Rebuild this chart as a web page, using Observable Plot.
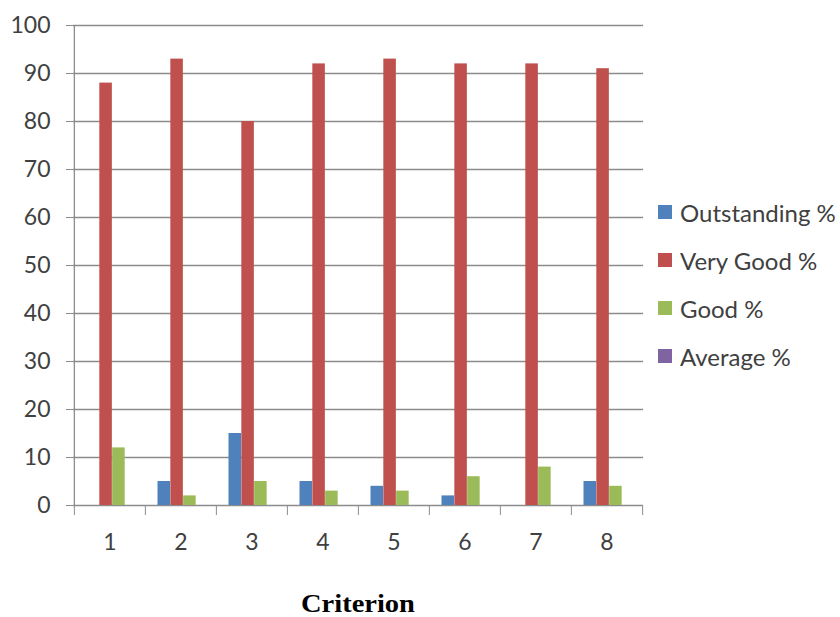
<!DOCTYPE html>
<html>
<head>
<meta charset="utf-8">
<script src="https://cdn.jsdelivr.net/npm/d3@7"></script>
<script src="https://cdn.jsdelivr.net/npm/@observablehq/plot@0.6"></script>
<style>
  body { margin: 0; background: #fff; }
  #wrap { position: relative; width: 840px; height: 617px; }
  #legend { position: absolute; left: 658px; top: 188px; font-family: Lato, "Open Sans", sans-serif; font-size: 24px; color: #404040; white-space: nowrap; }
  #legend .item { display: flex; align-items: center; height: 48px; }
  #legend .sw { width: 14px; height: 14px; margin-right: 8px; }
  #title { position: absolute; left: 0; width: 716px; top: 594px; line-height: 20px; text-align: center; font-family: "Liberation Serif", "Times New Roman", serif; font-weight: bold; font-size: 25px; color: #000; }
  #title span { display: inline-block; transform: scaleX(1.14); }
</style>
</head>
<body>
<div id="wrap">
  <div id="chart"></div>
  <div id="legend"></div>
  <div id="title"><span>Criterion</span></div>
</div>
<script>
const categories = ["1", "2", "3", "4", "5", "6", "7", "8"];
const outstanding = [0, 5, 15, 5, 4, 2, 0, 5];
const veryGood = [88, 93, 80, 92, 93, 92, 92, 91];
const good = [12, 2, 5, 3, 3, 6, 8, 4];
const average = [0, 0, 0, 0, 0, 0, 0, 0];
const seriesNames = ["Outstanding %", "Very Good %", "Good %", "Average %"];
const seriesColors = ["#4F81BD", "#C0504D", "#9BBB59", "#8064A2"];
const yTicks = [0, 10, 20, 30, 40, 50, 60, 70, 80, 90, 100];

const seriesValues = [outstanding, veryGood, good, average];

const marginLeft = 73, marginRight = 197, width = 840;
const nCat = categories.length;
const padIn = 0.28;
const step = (width - marginLeft - marginRight) / (nCat - padIn + padIn);
const band = step * (1 - padIn);
const barW = band / 4;

const gridColor = "#8c8c8c";

const barMarks = seriesValues.map((vals, i) =>
  Plot.barY(categories.map((c, j) => ({cat: c, value: vals[j]})), {
    x: "cat", y: "value", fill: seriesColors[i],
    insetLeft: i * barW, insetRight: (3 - i) * barW, dx: 2.5
  })
);

const chart = Plot.plot({
  width, height: 555,
  marginLeft, marginRight, marginTop: 25, marginBottom: 50,
  style: {fontFamily: "Lato, 'Open Sans', sans-serif", fontSize: "23px", color: "#404040", background: "#fff"},
  x: {domain: categories, paddingInner: padIn, paddingOuter: padIn / 2},
  y: {domain: [0, 100]},
  marks: [
    Plot.ruleY(yTicks, {stroke: gridColor, strokeWidth: 1.3}),
    ...barMarks,
    Plot.ruleX(["1"], {dx: -step / 2, stroke: gridColor, strokeWidth: 1.3}),
    Plot.axisY(yTicks, {tickSize: 7, tickPadding: 16, stroke: gridColor, fill: "#404040", label: null, fontSize: 23}),
    Plot.axisX(categories, {tickSize: 0, tickPadding: 28, fill: "#404040", label: null, fontSize: 23}),
    Plot.axisX(categories, {tickSize: 10, tickFormat: () => "", dx: -step / 2, stroke: gridColor, label: null}),
    Plot.axisX(["8"], {tickSize: 10, tickFormat: () => "", dx: step / 2, stroke: gridColor, label: null})
  ]
});
document.getElementById("chart").appendChild(chart);

const legend = document.getElementById("legend");
seriesNames.forEach((name, i) => {
  const item = document.createElement("div");
  item.className = "item";
  const sw = document.createElement("div");
  sw.className = "sw";
  sw.style.background = seriesColors[i];
  const t = document.createElement("span");
  t.textContent = name;
  item.appendChild(sw);
  item.appendChild(t);
  legend.appendChild(item);
});
</script>
</body>
</html>
